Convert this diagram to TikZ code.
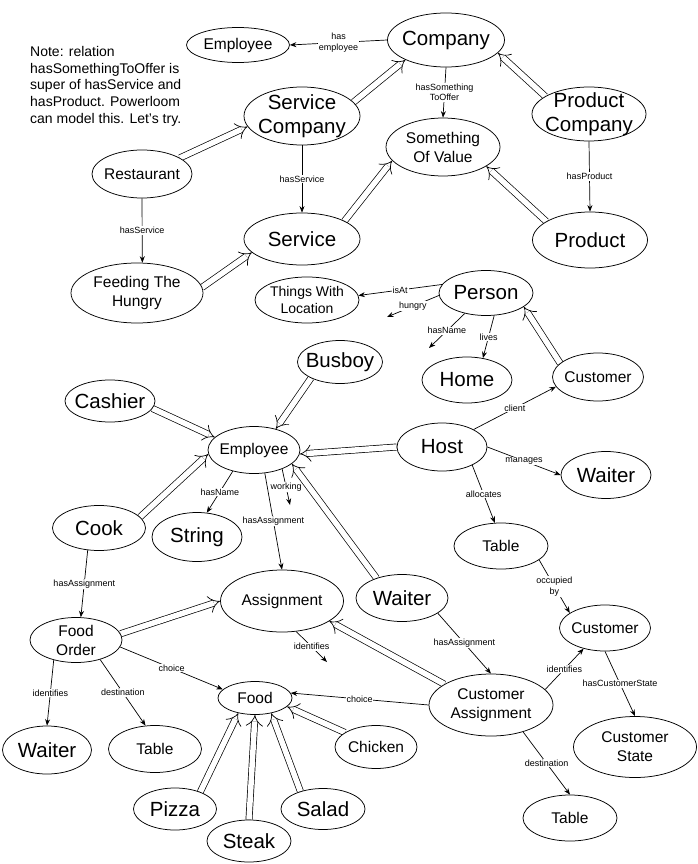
\documentclass[tikz,border=0pt]{standalone}
\usepackage{fontspec}
\setmainfont{Liberation Sans}
\usetikzlibrary{arrows.meta,shapes.geometric}
\pgfdeclarelayer{back}
\pgfdeclarelayer{edges}
\pgfsetlayers{back,edges,main}
\tikzset{
  oval/.style={draw, ellipse, fill=white, inner sep=0pt, line width=0.75pt},
  bigt/.style={font=\fontsize{20.5}{24}\selectfont, align=center, inner sep=0pt},
  smt/.style={font=\fontsize{15.5}{19}\selectfont, align=center, inner sep=0pt},
  tinyt/.style={font=\fontsize{14}{17}\selectfont, align=center, inner sep=0pt},
  lbl/.style={font=\fontsize{9}{10.5}\selectfont, fill=white, inner sep=0.8pt, align=center},
  rel/.style={draw, line width=0.7pt, -{Stealth[length=6.5pt,width=5pt]}},
  isa/.style={draw, line width=0.7pt, double, double distance=5.5pt, -{Implies}},
}
\newcommand\onode[7]{%
  \node[oval, minimum width=#4pt, minimum height=#5pt] (#1) at (#2,#3) {};
  \node[#6] (#1t) at (#1) {#7};}
\begin{document}
\begin{tikzpicture}[x=1pt,y=-1pt]
\begin{pgfonlayer}{back}
\fill[white] (0,0) rectangle (698,864);
\end{pgfonlayer}
\useasboundingbox (0,0) rectangle (698,864);

\node[font=\fontsize{14}{16.8}\selectfont, align=left, anchor=north west, inner sep=0pt] (note) at (30,46)
  {Note: relation\\hasSomethingToOffer is\\super of hasService and\\hasProduct. Powerloom\\can model this. Let's try.};

\onode{emp1}{238}{45}{103}{35}{smt}{Employee}
\onode{company}{446}{40}{117}{54}{bigt}{Company}
\onode{sc}{302}{116}{116}{58}{bigt}{Service\\Company}
\onode{pc}{589}{114}{114}{54}{bigt}{Product\\Company}
\onode{sov}{443}{147}{114}{58}{smt}{Something\\Of Value}
\onode{rest}{142}{174}{100}{48}{smt}{Restaurant}
\onode{service}{302}{239}{116}{52}{bigt}{Service}
\onode{product}{590}{240}{115}{56}{bigt}{Product}
\onode{fth}{137}{293}{132}{60}{smt}{Feeding The\\Hungry}
\onode{twl}{307}{300}{104}{46}{tinyt}{Things With\\Location}
\onode{person}{486}{293}{94}{45}{bigt}{Person}
\onode{home}{467}{380}{90}{46}{bigt}{Home}
\onode{cust1}{598}{377}{91}{48}{smt}{Customer}
\onode{busboy}{340}{362}{85}{43}{bigt}{Busboy}
\onode{cashier}{110}{401}{90}{42}{bigt}{Cashier}
\onode{emp2}{254}{450}{92}{47}{smt}{Employee}
\onode{host}{442}{447}{90}{48}{bigt}{Host}
\onode{waiter1}{606}{475}{90}{47}{bigt}{Waiter}
\onode{cook}{99}{528}{93}{45}{bigt}{Cook}
\onode{string}{197}{537}{90}{49}{bigt}{String}
\onode{table1}{501}{546}{94}{46}{smt}{Table}
\onode{assign}{282}{601}{123}{62}{smt}{Assignment}
\onode{waiter2}{402}{598}{92}{47}{bigt}{Waiter}
\onode{cust2}{605}{628}{91}{46}{smt}{Customer}
\onode{fo}{76}{640}{92}{45}{smt}{Food\\Order}
\onode{food}{255}{698}{74}{33}{smt}{Food}
\onode{ca}{491}{705}{124}{62}{smt}{Customer\\Assignment}
\onode{waiter3}{47}{750}{89}{48}{bigt}{Waiter}
\onode{table2}{155}{749}{93}{47}{smt}{Table}
\onode{chicken}{376}{747}{82}{43}{smt}{Chicken}
\onode{cs}{635}{747}{123}{61}{smt}{Customer\\State}
\onode{pizza}{175}{809}{83}{42}{bigt}{Pizza}
\onode{salad}{323}{809}{84}{41}{bigt}{Salad}
\onode{steak}{249}{841}{84}{42}{bigt}{Steak}
\onode{table3}{570}{818}{94}{46}{smt}{Table}

\coordinate (hungryend) at (387,317);
\coordinate (pnameend) at (429,348);
\coordinate (workend) at (290,505);
\coordinate (idend) at (327,662);

\begin{pgfonlayer}{edges}
% relations
\draw[rel] (company.west) -- node[lbl]{has\\employee} (emp1.east);
\draw[rel] (company.south) -- node[lbl]{hasSomething\\ToOffer} (sov.north);
\draw[rel] (sc.south) -- node[lbl]{hasService} (service.north);
\draw[rel] (pc.south) -- node[lbl]{hasProduct} (product.north);
\draw[rel] (rest.south) -- node[lbl]{hasService} (fth.80);
\draw[rel] (person.169) -- node[lbl]{isAt} (twl.5);
\draw[rel] (person.183) -- node[lbl]{hungry} (hungryend);
\draw[rel] (person.224) -- node[lbl]{hasName} (pnameend);
\draw[rel] (person.-70) -- node[lbl]{lives} (home.54);
\draw[rel] (host.29) -- node[lbl]{client} (cust1.-167);
\draw[rel] (host.east) -- node[lbl]{manages} (waiter1.west);
\draw[rel] (host.-31) -- node[lbl]{allocates} (table1.105);
\draw[rel] (table1.-20) -- node[lbl]{occupied\\by} (cust2.157);
\draw[rel] (emp2.225) -- node[lbl]{hasName} (string.68);
\draw[rel] (emp2.-34) -- node[lbl]{working} (workend);
\draw[rel] (emp2.-65) -- node[lbl]{hasAssignment} (assign.north);
\draw[rel] (cook.-117) -- node[lbl]{hasAssignment} (fo.78);
\draw[rel] (assign.-65) -- node[lbl]{identifies} (idend);
\draw[rel] (waiter2.-23.5) -- node[lbl]{hasAssignment} (ca.north);
\draw[rel] (ca.16) -- node[lbl]{identifies} (cust2.224);
\draw[rel] (cust2.south) -- node[lbl]{hasCustomerState} (cs.north);
\draw[rel] (ca.-40) -- node[lbl]{destination} (table3.north);
\draw[rel] (ca.west) -- node[lbl]{choice} (food.8);
\draw[rel] (fo.-9) -- node[lbl]{choice} (food.165);
\draw[rel] (fo.222) -- node[lbl]{identifies} (waiter3.north);
\draw[rel] (fo.-39) -- node[lbl]{destination} (table2.112);
% subclass links
\draw[isa] (cust1.160) -- (person.-20);
\draw[isa] (host.west) -- (emp2.-5);
\draw[isa] (busboy.209) -- (emp2.44);
\draw[isa] (cashier.-10) -- (emp2.162);
\draw[isa] (cook.15) -- (emp2.185);
\draw[isa] (waiter2.142) -- (emp2.-20);
\draw[isa] (fo.8) -- (assign.west);
\draw[isa] (ca.156) -- (assign.-23);
\draw[isa] (chicken.155) -- (food.-15);
\draw[isa] (pizza.34) -- (food.222);
\draw[isa] (steak.north) -- (food.south);
\draw[isa] (salad.142) -- (food.-43);
\draw[isa] (rest.23) -- (sc.-169);
\draw[isa] (fth.5) -- (service.-165);
\draw[isa] (sc.15) -- (company.206);
\draw[isa] (pc.158) -- (company.-14);
\draw[isa] (service.23) -- (sov.-165);
\draw[isa] (product.157) -- (sov.-24);
\end{pgfonlayer}
\end{tikzpicture}
\end{document}
